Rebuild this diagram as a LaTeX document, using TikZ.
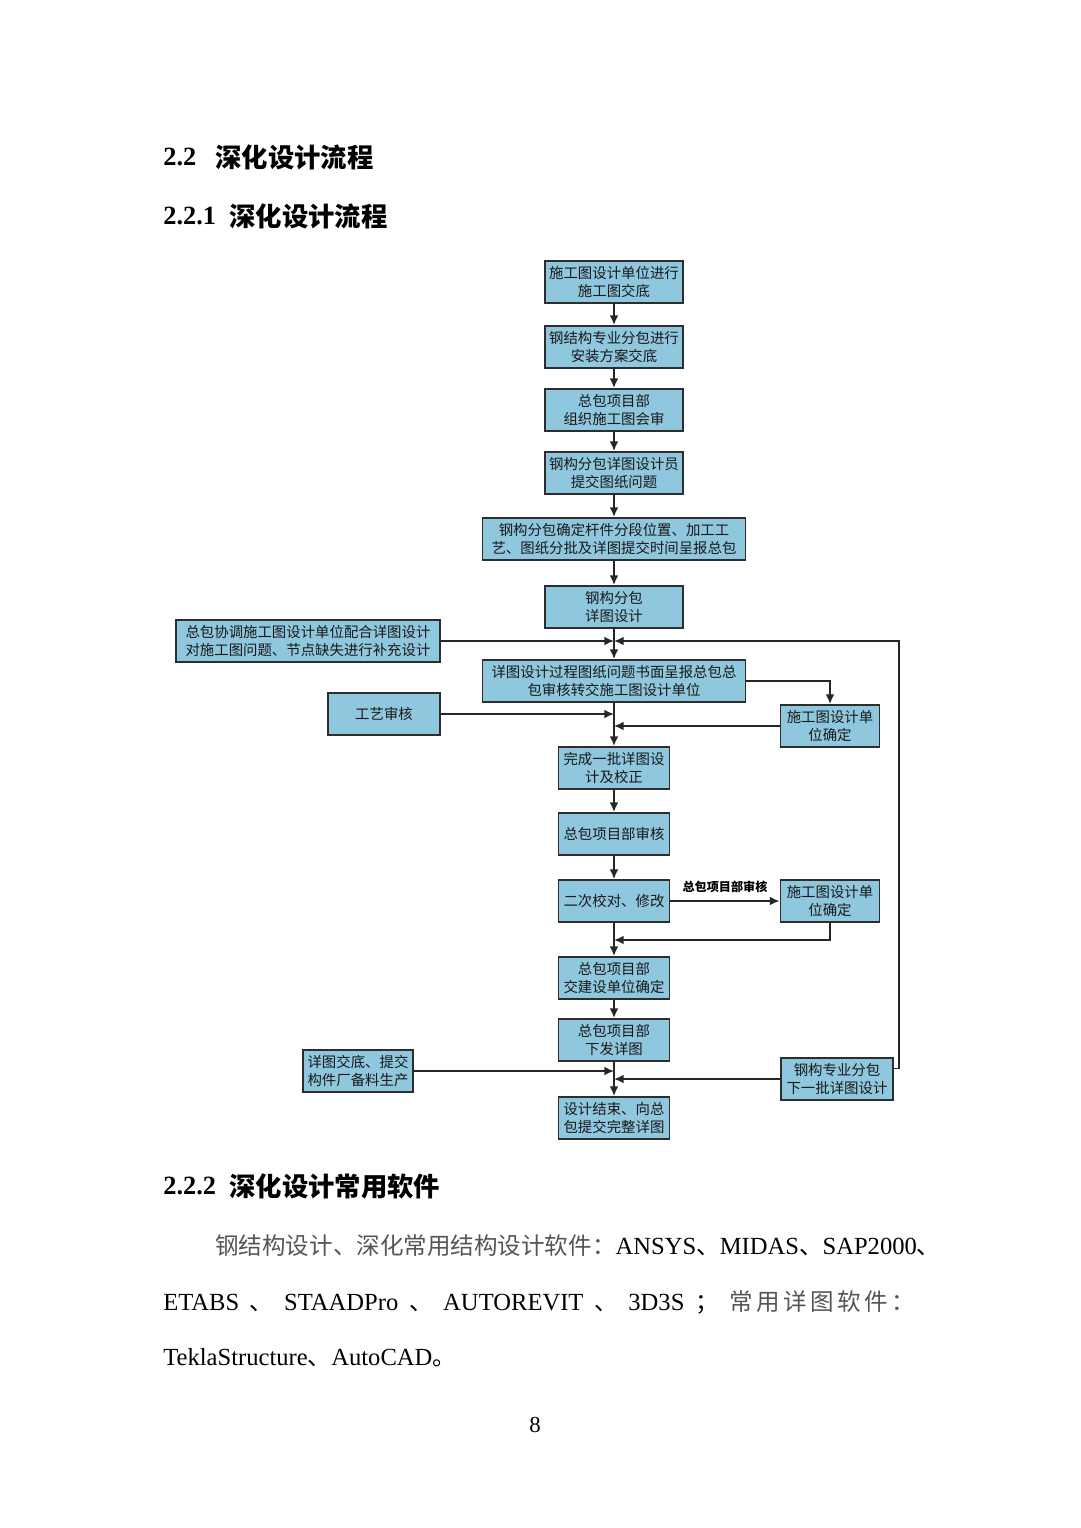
\documentclass[tikz,border=0pt]{standalone}
\usepackage{fontspec}
\setmainfont{Liberation Serif}
\newfontfamily\cjk{Noto Sans CJK SC}
\usetikzlibrary{arrows.meta}
\definecolor{boxblue}{RGB}{143,199,222}
\definecolor{boxline}{RGB}{45,45,45}
\definecolor{lightink}{RGB}{85,85,85}
\newcommand\zh[1]{{\cjk\fontsize{13.4}{16}\selectfont #1}}
\tikzset{
  stepbox/.style={draw=boxline,fill=boxblue,line width=1.1pt,minimum height=0.84cm,
    inner sep=1pt,align=center,text=black!90,font=\cjk\fontsize{8.2}{9.8}\selectfont},
  flow/.style={draw=black!85,line width=0.95pt,-{Latex[length=5.5pt,width=5pt]}},
  txt/.style={inner sep=0pt,font=\fontsize{14}{16}\selectfont}
}
\begin{document}
\begin{tikzpicture}[x=0.02cm,y=-0.02cm]
  \useasboundingbox (0,0) rectangle (1080,1528);

  \node[txt,anchor=west,font=\fontsize{15}{18}\selectfont\bfseries] (h1n) at (163,157) {2.2};
  \node[txt,anchor=west,font=\cjk\fontsize{15}{18}\selectfont\bfseries] (h1t) at (215,157) {深化设计流程};
  \node[txt,anchor=west,font=\fontsize{15}{18}\selectfont\bfseries] (h2n) at (163,216) {2.2.1};
  \node[txt,anchor=west,font=\cjk\fontsize{15}{18}\selectfont\bfseries] (h2t) at (229,216) {深化设计流程};

  \node[stepbox,minimum width=2.76cm] (a1) at (614,282) {施工图设计单位进行\\施工图交底};
  \node[stepbox,minimum width=2.76cm] (a2) at (614,347) {钢结构专业分包进行\\安装方案交底};
  \node[stepbox,minimum width=2.76cm] (a3) at (614,410) {总包项目部\\组织施工图会审};
  \node[stepbox,minimum width=2.76cm] (a4) at (614,473) {钢构分包详图设计员\\提交图纸问题};
  \node[stepbox,minimum width=5.26cm] (a5) at (614,539) {钢构分包确定杆件分段位置、加工工\\艺、图纸分批及详图提交时间呈报总包};
  \node[stepbox,minimum width=2.76cm] (a6) at (614,607) {钢构分包\\详图设计};
  \node[stepbox,minimum width=5.28cm] (a7) at (308,641) {总包协调施工图设计单位配合详图设计\\对施工图问题、节点缺失进行补充设计};
  \node[stepbox,minimum width=5.26cm] (a8) at (614,681) {详图设计过程图纸问题书面呈报总包总\\包审核转交施工图设计单位};
  \node[stepbox,minimum width=2.24cm] (a9) at (384,714) {工艺审核};
  \node[stepbox,minimum width=1.98cm] (a10) at (830,726) {施工图设计单\\位确定};
  \node[stepbox,minimum width=2.22cm] (a11) at (614,768) {完成一批详图设\\计及校正};
  \node[stepbox,minimum width=2.22cm] (a12) at (614,834) {总包项目部审核};
  \node[stepbox,minimum width=2.22cm] (a13) at (614,901) {二次校对、修改};
  \node[stepbox,minimum width=1.98cm] (a14) at (830,901) {施工图设计单\\位确定};
  \node[stepbox,minimum width=2.22cm] (a15) at (614,978) {总包项目部\\交建设单位确定};
  \node[stepbox,minimum width=2.22cm] (a16) at (614,1040) {总包项目部\\下发详图};
  \node[stepbox,minimum width=2.2cm] (a17) at (358,1071) {详图交底、提交\\构件厂备料生产};
  \node[stepbox,minimum width=2.24cm] (a18) at (837,1079) {钢构专业分包\\下一批详图设计};
  \node[stepbox,minimum width=2.22cm] (a19) at (614,1118) {设计结束、向总\\包提交完整详图};

  \coordinate (j1) at (614,641);
  \coordinate (j2) at (614,940);
  \coordinate (r1) at (899,641);

  \foreach \s/\t in {a1/a2,a2/a3,a3/a4,a4/a5,a5/a6,a6/a8,a8/a11,a11/a12,a12/a13,a13/a15,a15/a16,a16/a19}
    \draw[flow] (\s) -- (\t);
  \draw[flow] (a7) -- (j1);
  \draw[flow] ([yshift=6pt]a18.east) -| (r1) -- (j1);
  \draw[flow] (a9) -- (a9-|a8);
  \draw[flow] (a10) -- (a10-|a8);
  \draw[flow] (a8.east) -| (a10);
  \draw[flow] (a13) -- node[above=1pt,font=\cjk\fontsize{6.9}{8}\selectfont\bfseries] (lb) {总包项目部审核} (a14);
  \draw[flow] (a14) |- (j2);
  \draw[flow] (a17) -- (a17-|a16);
  \draw[flow] (a18) -- (a18-|a16);

  \node[txt,anchor=west,font=\fontsize{15}{18}\selectfont\bfseries] (h3n) at (163,1186) {2.2.2};
  \node[txt,anchor=west,font=\cjk\fontsize{15}{18}\selectfont\bfseries] (h3t) at (229,1186) {深化设计常用软件};

  \node[txt,anchor=west] (p1) at (215,1246) {\zh{\color{lightink}钢结构设计、深化常用结构设计软件：}ANSYS\zh{、}MIDAS\zh{、}SAP2000\zh{、}};
  \node[txt,anchor=west] (p2) at (163,1302) {\makebox[15.04cm][s]{ETABS \zh{、} STAADPro \zh{、} AUTOREVIT \zh{、} 3D3S \zh{；} \zh{\color{lightink}常\hskip2pt 用\hskip2pt 详\hskip2pt 图\hskip2pt 软\hskip2pt 件\hskip2pt ：}}};
  \node[txt,anchor=west] (p3) at (163,1358) {TeklaStructure\zh{、}AutoCAD\zh{。}};
  \node[txt,font=\fontsize{13}{16}\selectfont] (pg) at (535,1425) {8};
\end{tikzpicture}
\end{document}
